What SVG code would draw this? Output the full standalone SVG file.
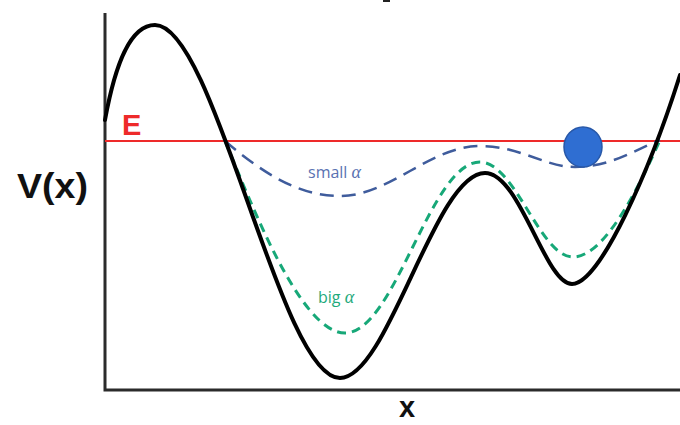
<svg xmlns="http://www.w3.org/2000/svg" width="680" height="425" viewBox="0 0 680 425">
<style>
.axis{fill:none;stroke:#2b2b2b;stroke-width:3}
.pot{fill:none;stroke:#000;stroke-width:4;stroke-linecap:round;stroke-linejoin:round}
.small{fill:none;stroke:#3f5c9c;stroke-width:2.5;stroke-dasharray:14 8}
.big{fill:none;stroke:#17a878;stroke-width:3;stroke-dasharray:9 6}
.lbl{font-family:"Liberation Sans",Arial,sans-serif;font-weight:bold}
.sm{font-family:"Open Sans","Liberation Sans",sans-serif;font-size:16px}
</style>
<rect width="680" height="425" fill="#fff"/>
<rect x="383" y="0" width="7" height="2" fill="#222"/>
<g id="axes">
<path class="axis" d="M105,13 V390 H680"/>
</g>
<g id="energy">
<line x1="105" y1="141" x2="680" y2="141" stroke="#ee2a2a" stroke-width="2"/>
<text class="lbl" x="122" y="135" font-size="29" fill="#ee2a2a">E</text>
</g>
<g id="curves">
<path id="small-alpha" class="small" d="M225,141 C265,175 300,196 340,196 C390,196 430,146 480,146 C520,146 545,167 575,167 C610,167 635,150 660,140"/>
<path id="big-alpha" class="big" d="M225,141 C250,200 300,333 345,333 C395,333 430,162 480,162 C515,162 540,257 573,257 C605,257 640,185 660,140"/>
<path id="potential" class="pot" d="M105,120 C115,65 130,25 155,25 C215,25 280,378 340,378 C388,378 435,173 485,173 C520,173 545,284 572,284 C600,284 650,170 680,75"/>
</g>
<g id="ball">
<ellipse cx="583" cy="147" rx="19" ry="20" fill="#2f6ed2" stroke="#2858a8" stroke-width="1.5"/>
</g>
<g id="labels">
<text class="lbl" x="17" y="198" font-size="35" fill="#111" textLength="71" lengthAdjust="spacingAndGlyphs">V(x)</text>
<text class="lbl" x="407" y="417" font-size="29" fill="#111" text-anchor="middle">x</text>
<text class="sm" x="308" y="178" fill="#5a72b2">small <tspan font-style="italic" font-family="Liberation Serif,serif" font-size="18">α</tspan></text>
<text class="sm" x="318" y="303" fill="#1faa7c">big <tspan font-style="italic" font-family="Liberation Serif,serif" font-size="18">α</tspan></text>
</g>
</svg>
